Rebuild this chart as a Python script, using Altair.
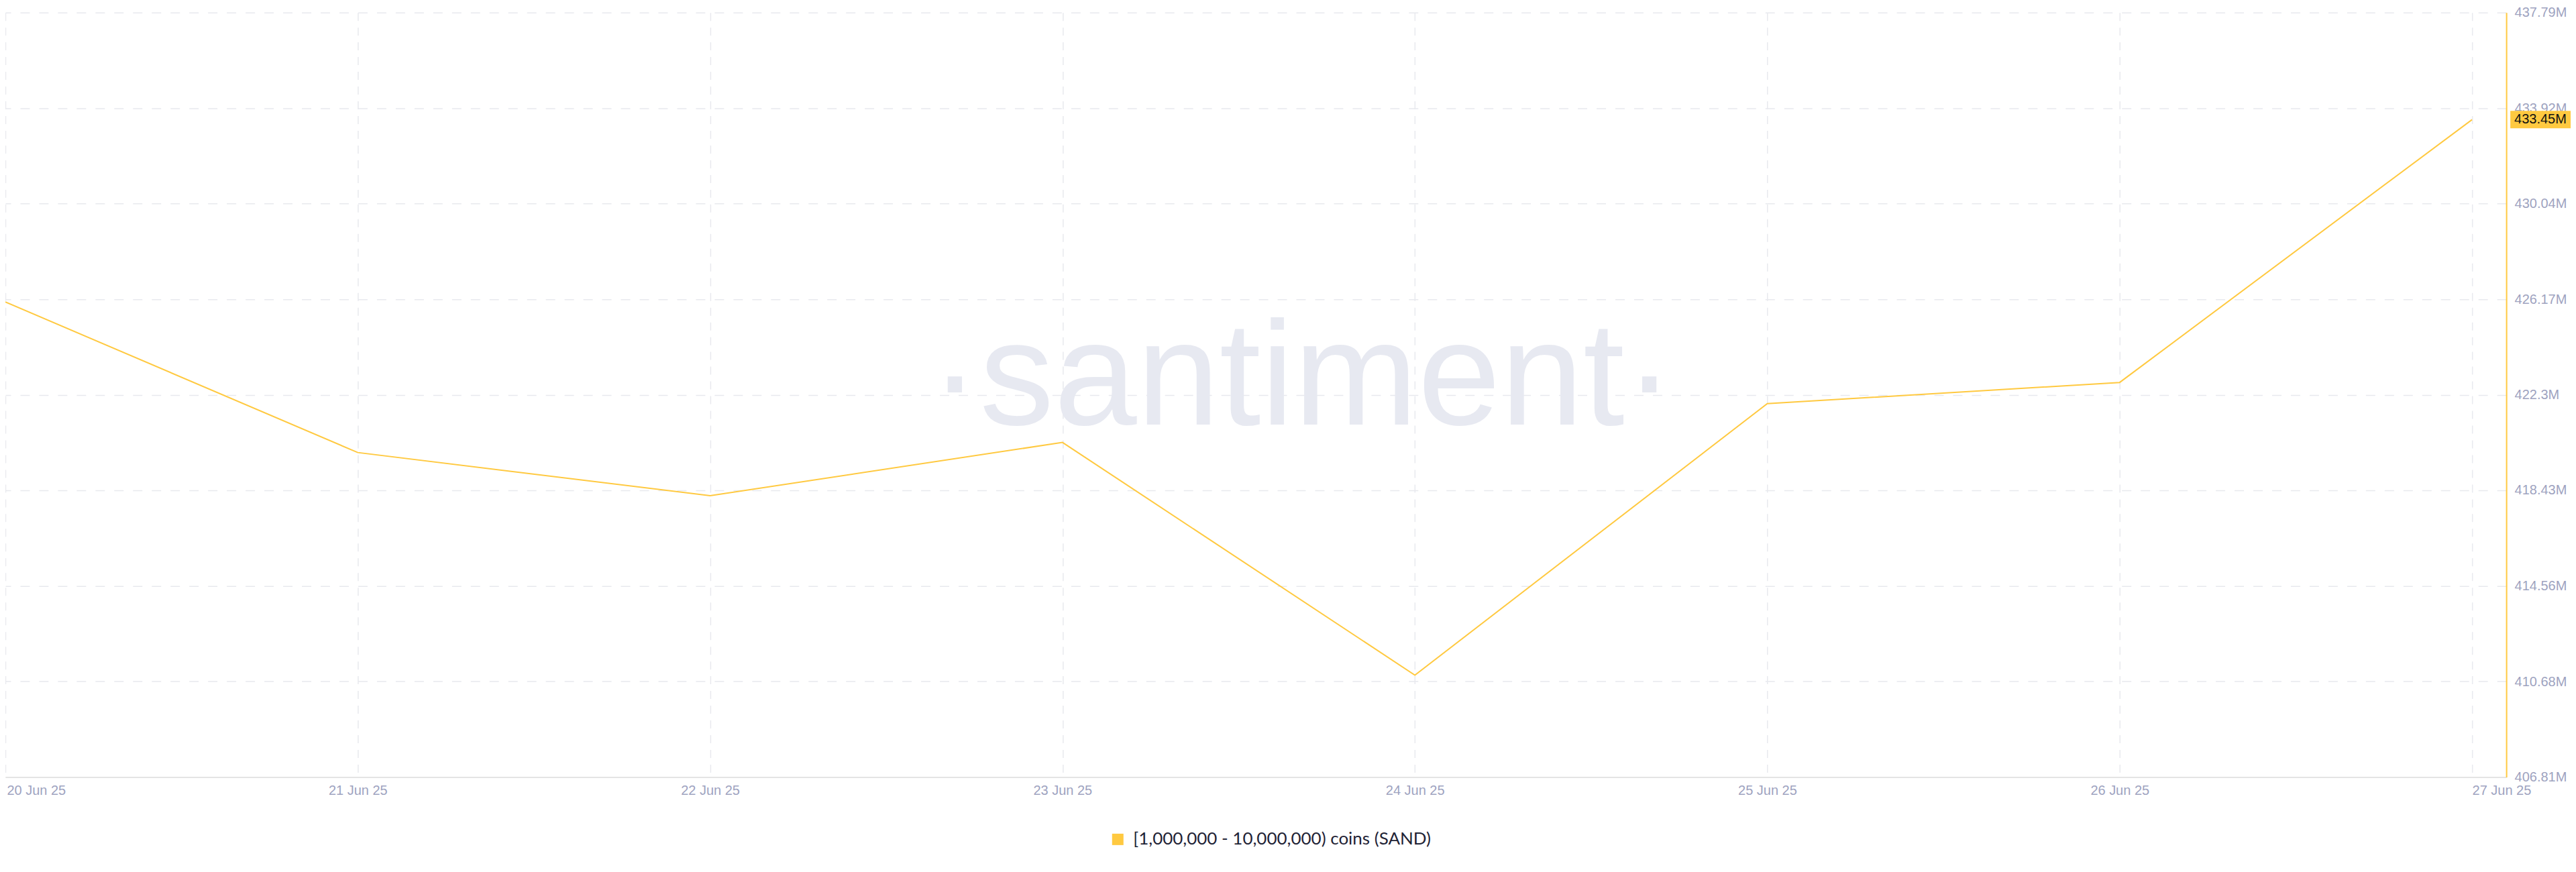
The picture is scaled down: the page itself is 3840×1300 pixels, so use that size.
import altair as alt
import pandas as pd

# ---- data ----
dates = ["2025-06-20T00:00:00Z", "2025-06-21T00:00:00Z", "2025-06-22T00:00:00Z",
         "2025-06-23T00:00:00Z", "2025-06-24T00:00:00Z", "2025-06-25T00:00:00Z",
         "2025-06-26T00:00:00Z", "2025-06-27T00:00:00Z"]
values_m = [426.06, 419.96, 418.21, 420.37, 410.94, 421.94, 422.80, 433.45]
y_ticks = [406.81, 410.68, 414.56, 418.43, 422.30, 426.17, 430.04, 433.92, 437.79]
x_tick_days = [20, 21, 22, 23, 24, 25, 26, 27]
series_name = "[1,000,000 - 10,000,000) coins (SAND)"
end_label = "433.45M"
watermark = "\u00b7santiment\u00b7"

YELLOW = "#ffc940"
AXIS_TXT = "#9ea3bf"
GRID = "#e8e9ee"

W, H = 3732, 1141

df = pd.DataFrame({"date": dates, "value": values_m, "series": series_name})
last = df.tail(1).assign(label=end_label)

x_scale = alt.Scale(
    type="utc",
    domain=[alt.DateTime(year=2025, month=6, date=20, utc=True),
            alt.DateTime(year=2025, month=6, date=27, hours=2, minutes=20, utc=True)],
)
y_scale = alt.Scale(domain=[406.81, 437.79], nice=False, zero=False)

x_axis = alt.Axis(
    values=[alt.DateTime(year=2025, month=6, date=d, utc=True) for d in x_tick_days],
    labelExpr="utcFormat(datum.value, '%d %b %y')",
    title=None, ticks=False, tickSize=0,
    labelFont="Liberation Sans", labelFontSize=20, labelColor=AXIS_TXT,
    labelPadding=10,
    labelAlign={"condition": {"test": "datum.index == 0 || datum.index == 1", "value": "left"},
                "value": "center"},
    labelOffset={"condition": {"test": "datum.index == 0", "value": 2}, "value": 0},
    domain=True, domainColor="#e4e4e4", domainWidth=2,
    grid=True, gridColor=GRID, gridDash=[12, 10], gridWidth=1.5,
)
y_axis = alt.Axis(
    orient="right", values=y_ticks,
    labelExpr="format(datum.value, '.2~f') + 'M'",
    title=None, ticks=False, tickSize=0,
    labelFont="Liberation Sans", labelFontSize=20, labelColor=AXIS_TXT,
    labelPadding=12, labelBaseline="middle",
    domain=True, domainColor=YELLOW, domainWidth=2,
    grid=True, gridColor=GRID, gridDash=[14, 14], gridWidth=1.5,
)

wm = alt.Chart(pd.DataFrame({"t": [watermark]})).mark_text(
    font="Liberation Sans", fontSize=222, color="#e7e9f1",
    align="center", baseline="alphabetic",
).encode(x=alt.value(1935), y=alt.value(615), text="t:N")

line = alt.Chart(df).mark_line(strokeWidth=2).encode(
    x=alt.X("date:T", scale=x_scale, axis=x_axis),
    y=alt.Y("value:Q", scale=y_scale, axis=y_axis),
    color=alt.Color(
        "series:N",
        scale=alt.Scale(domain=[series_name], range=[YELLOW]),
        legend=alt.Legend(
            orient="none", legendX=1647, legendY=1221, title=None,
            symbolType="square", symbolSize=289, symbolFillColor=YELLOW,
            symbolStrokeWidth=0, symbolOpacity=1,
            labelFont="Lato", labelFontSize=26, labelColor="#1f2335",
            labelOffset=10, labelLimit=0,
        ),
    ),
)

box = alt.Chart(last).mark_tick(
    orient="horizontal", size=90, thickness=26, color=YELLOW, opacity=1
).encode(x=alt.value(3783), y=alt.Y("value:Q", scale=y_scale, axis=y_axis))

lbl = alt.Chart(last).mark_text(
    font="Liberation Sans", fontSize=20, color="#111111",
    align="left", baseline="middle",
).encode(x=alt.value(3744), y=alt.Y("value:Q", scale=y_scale, axis=y_axis), text="label:N")

chart = alt.layer(wm, line, box, lbl).properties(
    width=W, height=H,
    autosize=alt.AutoSizeParams(type="none"),
    padding={"left": 0, "top": 10, "right": 96, "bottom": 120},
).configure(background="white").configure_view(stroke=None)

chart.save("out.html", embed_options={"renderer": "svg", "actions": False})
